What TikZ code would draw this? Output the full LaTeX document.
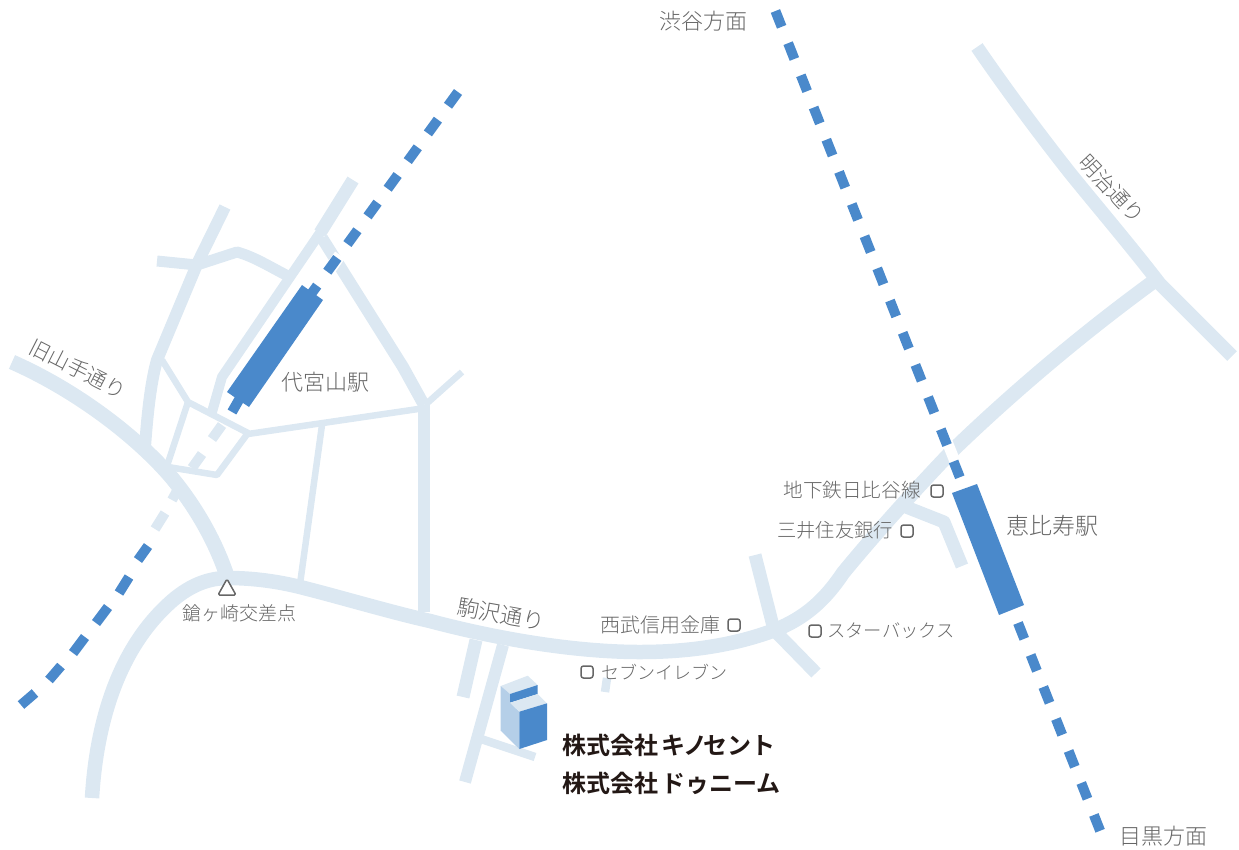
\documentclass[tikz,border=0pt]{standalone}
\usepackage{fontspec}
\setmainfont{Noto Sans CJK JP Light}[BoldFont={Noto Sans CJK JP Bold}]
\definecolor{road}{HTML}{DCE8F2}
\definecolor{rail}{HTML}{4A89CB}
\definecolor{lab}{HTML}{666666}
\definecolor{side}{HTML}{B5CFE8}
\definecolor{ink}{HTML}{231815}
\newcommand{\fs}[1]{\fontsize{#1}{#1}\selectfont}
\tikzset{
 x=1pt,y=-1pt,
 roadline/.style={draw=road,line width=#1,line join=round,fill=none},
 railline/.style={draw=rail,line width=10pt},
 lightdash/.style={draw=road,line width=10pt},
 halo/.style={draw=white,line width=#1},
 lbl/.style={text=lab,inner sep=0pt,anchor=center},
 co/.style={text=ink,inner sep=0pt,anchor=west,font=\bfseries\fs{24}},
 shop/.style={draw=lab,line width=1.5pt,rounded corners=2.5pt,minimum size=12pt,inner sep=0pt,fill=white},
}
\begin{document}
\begin{tikzpicture}
\useasboundingbox (0,0) rectangle (1239,849);
% major roads
\draw[roadline=15pt] (12,362) .. controls (80,392) and (140,440) .. (172,478) .. controls (195,506) and (215,540) .. (227,576);
\draw[roadline=14.5pt] (92,798) .. controls (96,730) and (115,650) .. (173,600) .. controls (192,584) and (210,578) .. (228,578) .. controls (255,578) and (280,582) .. (300,587) .. controls (340,597) and (390,612) .. (430,621) .. controls (490,637) and (570,652) .. (640,652) .. controls (690,652) and (735,645) .. (775,630) .. controls (805,618) and (825,600) .. (843,573) .. controls (870,540) and (910,495) .. (953,450) .. controls (1010,395) and (1080,335) .. (1157,279);
\draw[roadline=13.5pt] (977,47) .. controls (1005,88) and (1040,135) .. (1070,173) .. controls (1095,204) and (1130,245) .. (1160,284) -- (1232,356);
% Daikanyama side streets
\draw[roadline=12pt] (225,207) -- (198,262) -- (157,360) .. controls (150,385) and (147,420) .. (145,447);
\draw[roadline=11pt] (157,261) -- (197,265) -- (237,252) .. controls (255,257) and (270,267) .. (290,277);
\draw[roadline=13pt] (353,180) -- (320,233);
\draw[roadline=10pt] (322,230) -- (290,277) -- (222,377) -- (212,412);
\draw[roadline=12pt] (322,238) -- (403,367) -- (424,405);
\draw[roadline=12pt] (424,405) -- (424,612);
\draw[roadline=6.5pt] (425,405) -- (462,372);
\draw[roadline=6.5pt] (425,408) -- (248,434);
\draw[roadline=6.5pt] (162,360) -- (188,402) -- (248,433) -- (217,475) -- (168,467);
\draw[roadline=6.5pt] (188,402) -- (167,466);
\draw[roadline=6.5pt] (322,425) -- (300,584);
% south side streets
\draw[roadline=13pt] (476,640) -- (463,697);
\draw[roadline=12pt] (503,645) -- (465,782);
\draw[roadline=8.5pt] (478,738) -- (535,757);
\draw[roadline=8.5pt] (607,678) -- (605,692);
\draw[roadline=13pt] (755,555) -- (774,630) -- (816,673);
\draw[roadline=13pt] (906,507) -- (944,522) -- (962,566);
% halos where the rails cross the roads
\draw[halo=11pt] (942,429) -- (960,474);
\draw[halo=12pt] (340,255) -- (326,275);
% Daikanyama rail
\draw[railline,dash pattern=on 17pt off 17.2pt] (458,92) -- (306,301);
\draw[railline] (240,398) -- (232,412);
\draw[lightdash] (222,425) -- (212,439);
\draw[lightdash] (202,454) -- (192,468);
\draw[lightdash] (178,489) -- (172,500);
\draw[lightdash] (165,513) -- (155,529);
\draw[railline] (148,546) -- (138,560);
\draw[railline] (129,577) -- (119,593);
\draw[railline] (108,607) -- (96,623);
\draw[railline] (85,637) -- (73,653);
\draw[railline] (61,666) -- (49,680);
\draw[railline] (35,693) -- (21,705);
\fill[rail] (302,285) -- (323,300) -- (249,407) -- (227,392) -- cycle;
% Ebisu rail
\draw[railline,dash pattern=on 17pt off 17.6pt] (775.4,11) -- (968,498);
\draw[railline,dash pattern=on 17pt off 17.4pt] (1018,623) -- (1101,833);
\fill[rail] (952,493) -- (977,484) -- (1024,605) -- (999,615) -- cycle;
% building
\fill[road] (500.7,686) -- (527.7,675.7) -- (537.7,685) -- (510,694) -- cycle;
\fill[side] (500.7,686) -- (510,694) -- (510,702.7) -- (519.3,711.7) -- (519.3,749) -- (500.7,730.7) -- cycle;
\fill[rail] (510,694) -- (537.7,685) -- (537.7,694) -- (510,702.7) -- cycle;
\fill[road] (510,702.7) -- (537.7,694) -- (547,703.3) -- (519.3,711.7) -- cycle;
\fill[rail] (519.3,711.7) -- (547,703.3) -- (547,740) -- (519.3,749) -- cycle;
% crossing marker
\draw[lab,line width=1.5pt,line join=round,fill=white,rounded corners=1.5pt] (218,595) -- (227,579) -- (236,595) -- cycle;
% shop markers
\node[shop] (m1) at (937,491) {};
\node[shop] (m2) at (907,531) {};
\node[shop] (m3) at (734,625) {};
\node[shop] (m4) at (587,672) {};
\node[shop] (m5) at (815,631) {};
% labels
\node[lbl,font=\fs{22}] (t1) at (703,21) {渋谷方面};
\node[lbl,font=\fs{22}] (t2) at (1163,836) {目黒方面};
\node[lbl,font=\fs{22}] (t3) at (325,382) {代宮山駅};
\node[lbl,font=\fs{23}] (t4) at (1052,526) {恵比寿駅};
\node[lbl,font=\fs{21},rotate=-27] (t5) at (78,369) {旧山手通り};
\node[lbl,font=\fs{21},rotate=-47] (t6) at (1112,189) {明治通り};
\node[lbl,font=\fs{22},rotate=-10] (t7) at (501,614) {駒沢通り};
\node[lbl,font=\fs{19}] (t8) at (239,613) {鎗ヶ崎交差点};
\node[lbl,font=\fs{20}] (t9) at (660,625) {西武信用金庫};
\node[lbl,font=\fs{18}] (t10) at (664,672) {セブンイレブン};
\node[lbl,font=\fs{19.6}] (t11) at (852,490) {地下鉄日比谷線};
\node[lbl,font=\fs{19.3}] (t12) at (835,530) {三井住友銀行};
\node[lbl,font=\fs{18.3}] (t13) at (891,631) {スターバックス};
\node[co] (c1) at (562,745) {株式会社\hspace{3pt}キ\hspace{-2pt}ノ\hspace{-4pt}セント};
\node[co] (c2) at (562,783) {株式会社\hspace{3pt}ドゥニーム};
\end{tikzpicture}
\end{document}
